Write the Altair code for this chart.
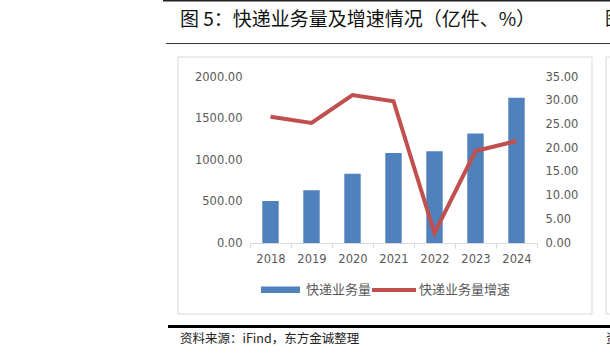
import altair as alt
import pandas as pd

# ---- data ----
years = ["2018", "2019", "2020", "2021", "2022", "2023", "2024"]
volume = [507.1, 635.2, 833.6, 1083.0, 1105.8, 1320.7, 1750.8]   # 亿件
growth = [26.6, 25.3, 31.2, 29.9, 2.1, 19.4, 21.5]               # %

left_ticks = [0, 500, 1000, 1500, 2000]
right_ticks = [0, 5, 10, 15, 20, 25, 30, 35]

title_text = "图 5：快递业务量及增速情况（亿件、%）"
source_text = "资料来源：iFind，东方金诚整理"
legend_labels = ["快递业务量", "快递业务量增速"]

df = pd.DataFrame({"year": years, "volume": volume, "growth": growth})
one = alt.Data(values=[{"k": 0}])

BAR = "#4F81BD"
LINE = "#C0504D"
GREY = "#595959"
NUMFONT = "DejaVu Sans"
CJK = "Noto Sans CJK SC"

W, H = 287, 166

bars = alt.Chart(df).mark_bar(color=BAR, width=alt.RelativeBandSize(0.4)).encode(
    x=alt.X("year:N", sort=years,
            scale=alt.Scale(paddingInner=0, paddingOuter=0),
            axis=alt.Axis(title=None, labelAngle=0, tickBand="extent",
                          domainColor="#D9D9D9", tickColor="#D9D9D9",
                          tickSize=5, labelPadding=5, labelFontSize=11.5,
                          labelColor=GREY, labelFont=NUMFONT, grid=False)),
    y=alt.Y("volume:Q", scale=alt.Scale(domain=[0, 2000], nice=False),
            axis=alt.Axis(title=None, orient="left", values=left_ticks,
                          format=".2f", domain=False, ticks=False, grid=False,
                          labelPadding=8, labelFontSize=11.5, labelColor=GREY,
                          labelFont=NUMFONT)),
)

line = alt.Chart(df).mark_line(color=LINE, strokeWidth=4).encode(
    x=alt.X("year:N", sort=years),
    y=alt.Y("growth:Q", scale=alt.Scale(domain=[0, 35], nice=False),
            axis=alt.Axis(title=None, orient="right", values=right_ticks,
                          format=".2f", domain=False, ticks=False, grid=False,
                          labelPadding=8, labelFontSize=11.5, labelColor=GREY,
                          labelFont=NUMFONT)),
)

# ---- page decorations (positions in plot-area pixels) ----
frame = alt.Chart(one).mark_rect(fillOpacity=0, stroke="#D9D9D9", strokeWidth=1).encode(
    x=alt.value(-72), x2=alt.value(342), y=alt.value(-20), y2=alt.value(237))
frame2 = alt.Chart(one).mark_rect(fillOpacity=0, stroke="#D9D9D9", strokeWidth=1).encode(
    x=alt.value(356), x2=alt.value(380), y=alt.value(-20), y2=alt.value(237))
top_rule = alt.Chart(one).mark_rule(color="#222222", strokeWidth=1.5).encode(
    x=alt.value(-87), x2=alt.value(370), y=alt.value(-76.3))
mid_rule = alt.Chart(one).mark_rule(color="#333333", strokeWidth=1).encode(
    x=alt.value(-84), x2=alt.value(370), y=alt.value(-33.5))
bot_rule = alt.Chart(one).mark_rule(color="#000000", strokeWidth=3).encode(
    x=alt.value(-82), x2=alt.value(370), y=alt.value(249.5))

title = alt.Chart(one).mark_text(font=CJK, fontSize=19, color="#111111",
                                 align="left", baseline="middle").encode(
    x=alt.value(-70), y=alt.value(-57), text=alt.value(title_text))
title_cut = alt.Chart(one).mark_text(font=CJK, fontSize=18, color="#111111",
                                     align="left", baseline="middle").encode(
    x=alt.value(355), y=alt.value(-57), text=alt.value("图"))
source = alt.Chart(one).mark_text(font=CJK, fontSize=12.5, color="#222222",
                                  align="left", baseline="middle").encode(
    x=alt.value(-70), y=alt.value(262), text=alt.value(source_text))
source_cut = alt.Chart(one).mark_text(font=CJK, fontSize=12.5, color="#222222",
                                      align="left", baseline="middle").encode(
    x=alt.value(356), y=alt.value(262), text=alt.value("资"))

# ---- legend ----
leg_bar = alt.Chart(one).mark_rect(color=BAR).encode(
    x=alt.value(11), x2=alt.value(50), y=alt.value(209.5), y2=alt.value(216))
leg_bar_t = alt.Chart(one).mark_text(font=CJK, fontSize=13, color=GREY,
                                     align="left", baseline="middle").encode(
    x=alt.value(56), y=alt.value(213), text=alt.value(legend_labels[0]))
leg_line = alt.Chart(one).mark_rule(color=LINE, strokeWidth=4).encode(
    x=alt.value(122), x2=alt.value(166), y=alt.value(213))
leg_line_t = alt.Chart(one).mark_text(font=CJK, fontSize=13, color=GREY,
                                      align="left", baseline="middle").encode(
    x=alt.value(169), y=alt.value(213), text=alt.value(legend_labels[1]))

chart = alt.layer(
    frame, frame2, top_rule, mid_rule, bot_rule, title, title_cut, source, source_cut,
    bars, line, leg_bar, leg_bar_t, leg_line, leg_line_t
).resolve_scale(y="independent").properties(
    width=W, height=H, autosize="none",
    padding={"left": 250, "top": 77, "right": 73, "bottom": 114},
    background="white",
).configure_view(stroke=None)

chart.save("out.html", embed_options={"renderer": "svg", "actions": False})
